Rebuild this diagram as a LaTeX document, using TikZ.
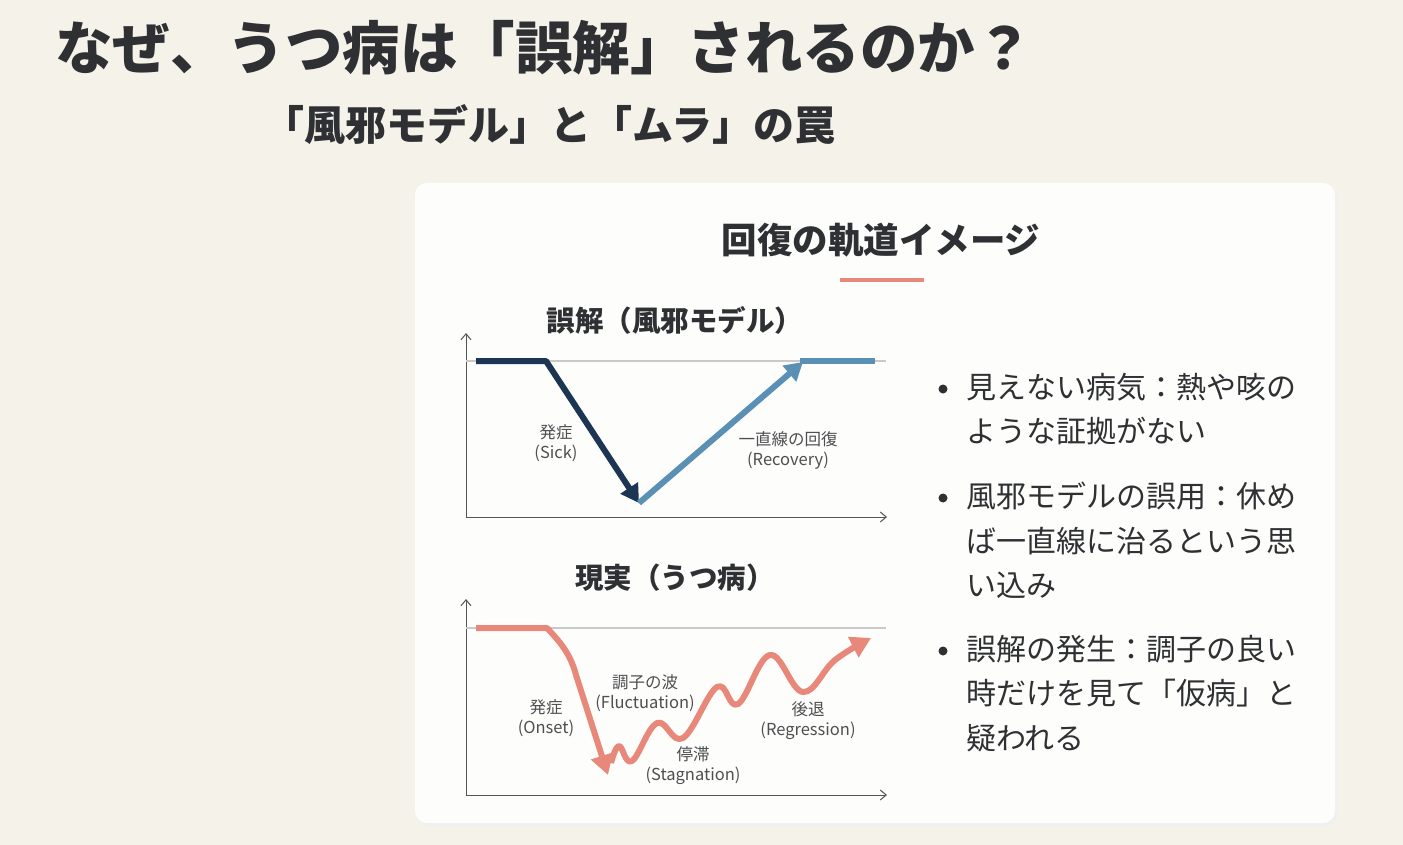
\documentclass[tikz,border=0pt]{standalone}
\usepackage{fontspec}
\setmainfont{Noto Sans CJK JP}
\usetikzlibrary{arrows.meta}
\definecolor{bgc}{HTML}{F5F2EA}
\definecolor{cardc}{HTML}{FDFDFB}
\definecolor{ink}{HTML}{2F3033}
\definecolor{navy}{HTML}{1C3552}
\definecolor{sky}{HTML}{5A90B3}
\definecolor{sal}{HTML}{E8887A}
\definecolor{grid}{HTML}{C9C9C9}
\definecolor{axis}{HTML}{555555}
\tikzset{
  ttl/.style={anchor=center,inner sep=0pt,text=ink,font=\fontsize{28.5}{32}\selectfont\bfseries},
  lbl/.style={anchor=center,inner sep=0pt,align=center,text=ink!85,font=\fontsize{16.5}{20}\selectfont},
  bul/.style={anchor=north west,inner sep=0pt,align=left,text=ink,font=\fontsize{30}{44.5}\selectfont},
  dot/.style={circle,fill=ink,inner sep=0pt,minimum size=9pt},
  ax/.style={draw=axis,line width=1pt,-{Straight Barb[length=6pt,width=10pt]}},
  base/.style={draw=grid,line width=1.2pt},
  thick line/.style={line width=6pt,line cap=butt,line join=round},
  tip/.style={-{Triangle[length=18pt,width=20pt]}},
  tipbig/.style={-{Triangle[length=20pt,width=22pt]}}
}
\begin{document}
\begin{tikzpicture}[x=1pt,y=-1pt]
\useasboundingbox (0,0) rectangle (1403,845);
\fill[bgc] (0,0) rectangle (1403,845);
% card
\fill[black!6] (417,186) [rounded corners=12pt] rectangle (1337,826);
\fill[cardc,rounded corners=12pt] (415,183) rectangle (1335,823);
% titles
\node[anchor=west,inner sep=0pt,text=ink,font=\fontsize{57.5}{64}\selectfont\bfseries] (t1) at (55,48) {なぜ、うつ病は「誤解」されるのか？};
\node[anchor=west,inner sep=0pt,text=ink,font=\fontsize{41}{48}\selectfont\bfseries] (t2) at (263,125) {「風邪モデル」と「ムラ」の罠};
\node[anchor=center,inner sep=0pt,text=ink,font=\fontsize{35.5}{40}\selectfont\bfseries] (ct) at (881,240) {回復の軌道イメージ};
\draw[sal,line width=4pt] (840,280) -- (924,280);
% chart 1
\node[ttl] (c1) at (675,320) {誤解（風邪モデル）};
\coordinate (o1) at (466,517);
\draw[ax] (o1) -- (466,333);
\draw[ax] (o1) -- (887,517);
\draw[base] (466,361) -- (886,361);
\coordinate (a0) at (476,361);
\coordinate (a1) at (546,361);
\coordinate (a2) at (639,503);
\coordinate (a3) at (803,362);
\coordinate (a4) at (800,361);
\coordinate (a5) at (875,361);
\draw[navy,thick line,tip] (a0) -- (a1) -- (a2);
\draw[sky,thick line,tip] (a2) -- (a3);
\draw[sky,thick line] (a4) -- (a5);
\node[lbl] (l1) at (556,443) {発症\\(Sick)};
\node[lbl] (l2) at (788,450) {一直線の回復\\(Recovery)};
% chart 2
\node[ttl] (c2) at (675,578) {現実（うつ病）};
\coordinate (o2) at (466,795);
\draw[ax] (o2) -- (466,599);
\draw[ax] (o2) -- (887,795);
\draw[base] (466,628) -- (886,628);
\coordinate (b0) at (476,628);
\coordinate (b1) at (547,628);
\coordinate (b2) at (608,775);
\draw[sal,thick line,tipbig] (b0) -- (b1) .. controls (558,640) and (570,652) .. (576,675) -- (b2);
\draw[sal,thick line,tipbig] plot[smooth,tension=0.65] coordinates {(611,763) (619,746) (632,761) (657,723) (683,738) (717,687) (738,704) (770,655) (803,692) (835,660) (871,638)};
\node[lbl] (l3) at (546,718) {発症\\(Onset)};
\node[lbl] (l4) at (645,693) {調子の波\\(Fluctuation)};
\node[lbl] (l5) at (693,766) {停滞\\(Stagnation)};
\node[lbl] (l6) at (808,721) {後退\\(Regression)};
% bullets
\node[dot] (d1) at (943,389) {};
\node[bul] (p1) at (966,373) {見えない病気：熱や咳の\\ような証拠がない};
\node[dot] (d2) at (943,498) {};
\node[bul] (p2) at (966,482) {風邪モデルの誤用：休め\\ば一直線に治るという思\\い込み};
\node[dot] (d3) at (943,651) {};
\node[bul] (p3) at (966,635) {誤解の発生：調子の良い\\時だけを見て「仮病」と\\疑われる};
\end{tikzpicture}
\end{document}
